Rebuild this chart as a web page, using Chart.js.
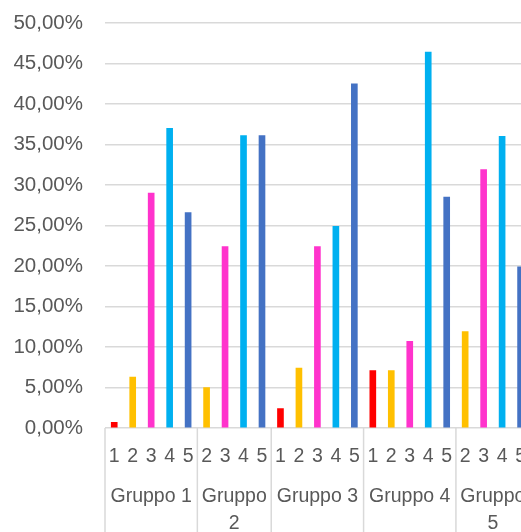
<!DOCTYPE html>
<html>
<head>
<meta charset="utf-8">
<script src="https://cdn.jsdelivr.net/npm/chart.js@4/dist/chart.umd.min.js"></script>
<style>
  html, body { margin: 0; padding: 0; background: #ffffff; overflow: hidden; }
  #wrap { position: relative; width: 543px; height: 532px; }
</style>
</head>
<body>
<div id="wrap"><canvas id="chart"></canvas></div>
<script>
// Group names (outer level of the category axis)
const groupNames = ['Gruppo 1', 'Gruppo 2', 'Gruppo 3', 'Gruppo 4', 'Gruppo 5'];

// Categories present in each group (inner level)
const gruppo1Categories = ['1', '2', '3', '4', '5'];
const gruppo2Categories = ['2', '3', '4', '5'];
const gruppo3Categories = ['1', '2', '3', '4', '5'];
const gruppo4Categories = ['1', '2', '3', '4', '5'];
const gruppo5Categories = ['2', '3', '4', '5'];

// Percentages per category, in the same order as above
const gruppo1Values = [0.7, 6.3, 29.0, 37.0, 26.6];
const gruppo2Values = [5.0, 22.4, 36.1, 36.1];
const gruppo3Values = [2.4, 7.4, 22.4, 24.9, 42.5];
const gruppo4Values = [7.1, 7.1, 10.7, 46.4, 28.5];
const gruppo5Values = [11.9, 31.9, 36.0, 19.9];

// Value axis ticks
const yTicks = [0, 5, 10, 15, 20, 25, 30, 35, 40, 45, 50];

// Bar colour for each category number
const categoryColors = {
  '1': '#FF0000',
  '2': '#FFC000',
  '3': '#FF33CC',
  '4': '#00B0F0',
  '5': '#4472C4'
};

const groupCategories = [gruppo1Categories, gruppo2Categories, gruppo3Categories, gruppo4Categories, gruppo5Categories];
const groupValues = [gruppo1Values, gruppo2Values, gruppo3Values, gruppo4Values, gruppo5Values];

const labels = groupCategories.flat();
const values = groupValues.flat();
const colors = labels.map(c => categoryColors[c]);

const TEXT = '#595959';
const LINE = '#d9d9d9';
const FONT = '"Liberation Sans", Arial, sans-serif';
const FONT_SIZE = 19.5;

// Draws the outer group level of the axis: separators and wrapped group names
const groupAxis = {
  id: 'groupAxis',
  afterDraw(chart) {
    const ctx = chart.ctx;
    const x = chart.scales.x;
    const area = chart.chartArea;
    const slot = x.getPixelForValue(1) - x.getPixelForValue(0);
    const bottom = chart.height;
    ctx.save();
    ctx.strokeStyle = LINE;
    ctx.lineWidth = 1.5;
    ctx.fillStyle = TEXT;
    ctx.font = FONT_SIZE + 'px ' + FONT;
    ctx.textAlign = 'center';
    ctx.textBaseline = 'middle';
    let start = 0;
    groupNames.forEach((name, g) => {
      const n = groupCategories[g].length;
      const left = x.getPixelForValue(start) - slot / 2;
      const right = x.getPixelForValue(start + n - 1) + slot / 2;
      ctx.beginPath();
      ctx.moveTo(left, area.bottom);
      ctx.lineTo(left, bottom);
      if (g === groupNames.length - 1) {
        ctx.moveTo(right, area.bottom);
        ctx.lineTo(right, bottom);
      }
      ctx.stroke();
      const cx = (left + right) / 2;
      const lineY = area.bottom + 69;
      if (ctx.measureText(name).width > right - left - 4) {
        const parts = name.split(' ');
        ctx.fillText(parts[0], cx, lineY);
        ctx.fillText(parts.slice(1).join(' '), cx, lineY + 27);
      } else {
        ctx.fillText(name, cx, lineY);
      }
      start += n;
    });
    ctx.restore();
  }
};

new Chart(document.getElementById('chart'), {
  type: 'bar',
  data: {
    labels: labels,
    datasets: [{
      data: values,
      backgroundColor: colors,
      borderWidth: 0,
      barThickness: 6
    }]
  },
  options: {
    responsive: true,
    maintainAspectRatio: false,
    animation: false,
    layout: { padding: { top: 23, left: 0, right: 0, bottom: 0 } },
    plugins: { legend: { display: false }, tooltip: { enabled: false } },
    scales: {
      x: {
        grid: { display: false, drawTicks: false },
        border: { display: false },
        ticks: {
          color: TEXT,
          font: { family: FONT, size: FONT_SIZE },
          padding: 17,
          autoSkip: false,
          maxRotation: 0
        },
        afterFit(scale) { scale.height = 104; }
      },
      y: {
        min: 0,
        max: 50,
        grid: { color: LINE, lineWidth: 1.5, drawTicks: false },
        border: { display: false },
        afterBuildTicks(scale) { scale.ticks = yTicks.map(v => ({ value: v })); },
        ticks: {
          color: TEXT,
          font: { family: FONT, size: 20.5 },
          padding: 22,
          callback: v => v.toFixed(2).replace('.', ',') + '%'
        },
        afterFit(scale) {
          scale.width = 105;
          scale.paddingTop = 0;
          scale.paddingBottom = 0;
        }
      }
    }
  },
  plugins: [groupAxis]
});
</script>
</body>
</html>
